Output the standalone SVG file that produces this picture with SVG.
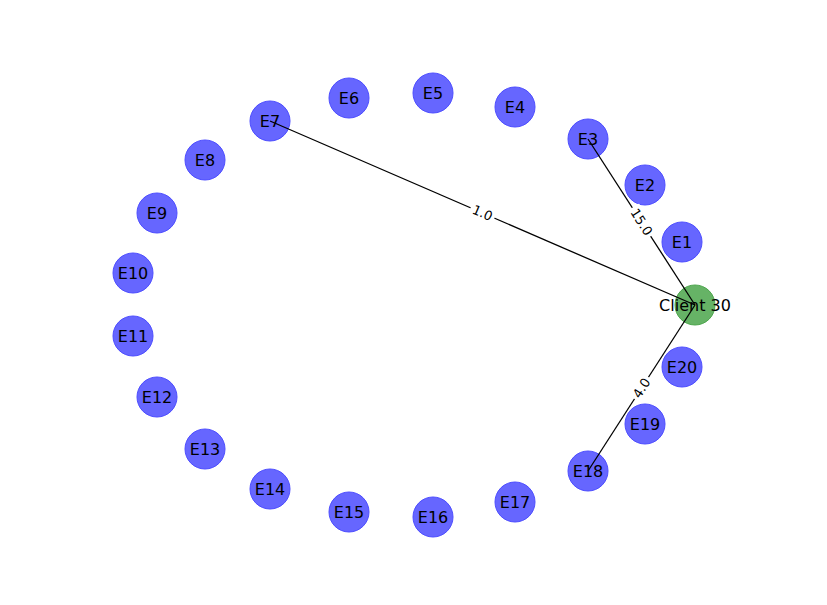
<svg xmlns="http://www.w3.org/2000/svg" width="827" height="605" viewBox="0 0 827 605">
<style>
.n circle{fill:#6666ff;stroke:#4d4dff;stroke-width:1}
.c circle{fill:#66b366;stroke:#4da64d;stroke-width:1}
.n text,.c text{font-family:"DejaVu Sans",sans-serif;font-size:16px;text-anchor:middle;dominant-baseline:central;fill:#000}
.e line{stroke:#000;stroke-width:1.3}
.el rect{fill:#fff}
.el text{font-family:"DejaVu Sans",sans-serif;font-size:13px;text-anchor:middle;dominant-baseline:central;fill:#000}
</style>
<rect width="827" height="605" fill="#fff"/>
<g id="nodes">
<g id="E1" class="n"><circle cx="682" cy="242" r="20"/><text x="682" y="242">E1</text></g>
<g id="E2" class="n"><circle cx="645" cy="185" r="20"/><text x="645" y="185">E2</text></g>
<g id="E3" class="n"><circle cx="588" cy="139" r="20"/><text x="588" y="139">E3</text></g>
<g id="E4" class="n"><circle cx="515" cy="107" r="20"/><text x="515" y="107">E4</text></g>
<g id="E5" class="n"><circle cx="433" cy="93" r="20"/><text x="433" y="93">E5</text></g>
<g id="E6" class="n"><circle cx="349" cy="98" r="20"/><text x="349" y="98">E6</text></g>
<g id="E7" class="n"><circle cx="270" cy="121" r="20"/><text x="270" y="121">E7</text></g>
<g id="E8" class="n"><circle cx="205" cy="160" r="20"/><text x="205" y="160">E8</text></g>
<g id="E9" class="n"><circle cx="157" cy="213" r="20"/><text x="157" y="213">E9</text></g>
<g id="E10" class="n"><circle cx="133" cy="273" r="20"/><text x="133" y="273">E10</text></g>
<g id="E11" class="n"><circle cx="133" cy="336" r="20"/><text x="133" y="336">E11</text></g>
<g id="E12" class="n"><circle cx="157" cy="397" r="20"/><text x="157" y="397">E12</text></g>
<g id="E13" class="n"><circle cx="205" cy="449" r="20"/><text x="205" y="449">E13</text></g>
<g id="E14" class="n"><circle cx="270" cy="489" r="20"/><text x="270" y="489">E14</text></g>
<g id="E15" class="n"><circle cx="349" cy="512" r="20"/><text x="349" y="512">E15</text></g>
<g id="E16" class="n"><circle cx="433" cy="517" r="20"/><text x="433" y="517">E16</text></g>
<g id="E17" class="n"><circle cx="515" cy="502" r="20"/><text x="515" y="502">E17</text></g>
<g id="E18" class="n"><circle cx="588" cy="471" r="20"/><text x="588" y="471">E18</text></g>
<g id="E19" class="n"><circle cx="645" cy="424" r="20"/><text x="645" y="424">E19</text></g>
<g id="E20" class="n"><circle cx="682" cy="367" r="20"/><text x="682" y="367">E20</text></g>
<g id="Client30" class="c"><circle cx="695" cy="305" r="20"/></g>
</g>
<g id="edges" class="e">
<line x1="695" y1="305" x2="270" y2="121"/>
<line x1="695" y1="305" x2="588" y2="139"/>
<line x1="695" y1="305" x2="588" y2="471"/>
</g>
<g id="edge-labels" class="el">
<g transform="translate(482.5,213) rotate(23.4)"><rect x="-13" y="-8" width="26" height="16"/><text x="0" y="0">1.0</text></g>
<g transform="translate(641.5,222) rotate(57.2)"><rect x="-17" y="-8" width="34" height="16"/><text x="0" y="0">15.0</text></g>
<g transform="translate(641.5,388) rotate(-57.2)"><rect x="-13" y="-8" width="26" height="16"/><text x="0" y="0">4.0</text></g>
</g>
<g id="node-labels" class="c"><text x="695" y="305">Client 30</text></g>
</svg>
